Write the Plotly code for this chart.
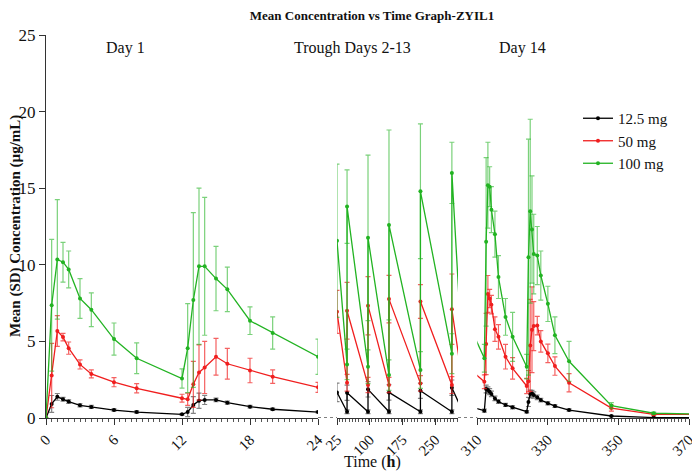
import plotly.graph_objects as go

# ---------------- data ----------------
# Day 1 (h)
t_day1 = [0, 0.5, 1, 1.5, 2, 3, 4, 6, 8, 12, 12.5, 13, 13.5, 14, 15, 16, 18, 20, 24]
d1_125 = [0, 0.92, 1.38, 1.22, 1.07, 0.83, 0.72, 0.52, 0.39, 0.24, 0.39, 0.85, 1.13, 1.18, 1.18, 1.0, 0.74, 0.57, 0.39]
sd1_125 = [0, 0.55, 0.22, 0.12, 0.12, 0.1, 0.1, 0.08, 0.07, 0.05, 0.3, 0.55, 0.5, 0.3, 0.12, 0.1, 0.08, 0.07, 0.06]
d1_50 = [0, 2.77, 5.68, 5.28, 4.56, 3.5, 2.88, 2.34, 1.94, 1.29, 1.22, 2.2, 2.97, 3.3, 4.0, 3.54, 3.1, 2.7, 2.0]
sd1_50 = [0, 2.1, 1.0, 0.25, 0.4, 0.3, 0.26, 0.3, 0.3, 0.26, 0.4, 1.5, 1.8, 1.7, 1.2, 1.0, 0.8, 0.44, 0.33]
d1_100 = [0, 7.36, 10.35, 10.17, 9.7, 7.8, 7.07, 5.15, 3.9, 2.58, 4.56, 7.7, 9.9, 9.9, 9.1, 8.4, 6.35, 5.55, 4.0]
sd1_100 = [0, 4.3, 3.9, 1.3, 1.2, 1.3, 1.1, 1.05, 1.0, 0.63, 2.9, 5.7, 5.1, 4.5, 2.1, 1.45, 0.9, 1.05, 1.15]

# Trough days 2-13 (h)
t_trough = [25, 48, 48, 96, 96, 144, 144, 216, 216, 288, 288]
tr_125 = [1.67, 0.41, 1.65, 0.41, 1.87, 0.41, 1.67, 0.41, 1.78, 0.41, 1.98]
sdtr_125 = [0.6, 0.12, 0.5, 0.12, 0.5, 0.12, 0.5, 0.12, 0.5, 0.12, 0.5]
tr_50 = [6.93, 2.3, 7.0, 2.15, 7.33, 2.15, 7.76, 2.26, 7.6, 2.15, 7.1]
sdtr_50 = [1.4, 0.55, 1.85, 0.5, 1.9, 0.5, 1.55, 0.5, 1.1, 0.55, 2.3]
tr_100 = [11.57, 3.5, 13.8, 3.35, 11.76, 2.8, 12.6, 3.13, 14.8, 4.2, 16.0]
sdtr_100 = [5.0, 1.0, 2.4, 1.1, 5.4, 1.0, 6.2, 1.2, 4.4, 1.3, 2.0]

# Day 14 (h)
t_day14 = [312, 312.5, 313, 313.5, 314, 315, 316, 318, 320, 324, 324.5, 325, 325.5, 326, 327, 328, 330, 332, 336, 348, 360, 372]
d14_125 = [0.48, 1.89, 1.83, 1.72, 1.57, 1.28, 1.07, 0.85, 0.70, 0.41, 1.05, 1.57, 1.6, 1.5, 1.35, 1.17, 0.96, 0.78, 0.52, 0.13, 0.03, 0.02]
sd14_125 = [0.1, 0.25, 0.2, 0.2, 0.18, 0.15, 0.12, 0.1, 0.1, 0.08, 0.3, 0.25, 0.2, 0.2, 0.15, 0.12, 0.1, 0.08, 0.07, 0.04, 0.02, 0.01]
d14_50 = [2.37, 4.83, 8.1, 7.8, 7.4, 5.8, 5.3, 4.0, 3.24, 2.09, 2.4, 4.74, 5.76, 6.0, 6.03, 5.0, 4.22, 3.39, 2.3, 0.65, 0.24, 0.24]
sd14_50 = [0.45, 2.0, 1.2, 0.6, 0.6, 0.8, 0.8, 0.8, 0.7, 0.5, 0.7, 3.0, 2.8, 1.6, 0.6, 0.7, 0.6, 0.6, 0.6, 0.2, 0.08, 0.05]
d14_100 = [3.9, 11.5, 15.2, 15.1, 13.6, 12.0, 9.2, 6.6, 5.3, 3.35, 10.5, 13.5, 12.3, 10.7, 10.6, 9.3, 7.45, 5.4, 3.7, 0.81, 0.31, 0.26]
sd14_100 = [0.9, 5.5, 2.8, 1.3, 1.5, 1.5, 1.4, 1.2, 1.6, 0.8, 7.7, 6.0, 3.5, 2.6, 1.9, 1.6, 1.15, 1.2, 1.3, 0.2, 0.08, 0.05]

doses = ["12.5 mg", "50 mg", "100 mg"]
line_colors = ["#000000", "#F01E1E", "#22B322"]
err_colors = ["rgba(90,90,90,0.75)", "rgba(240,30,30,0.7)", "rgba(34,179,34,0.6)"]

day1_vals = [d1_125, d1_50, d1_100]
day1_sds = [sd1_125, sd1_50, sd1_100]
later_vals = [tr_125 + d14_125, tr_50 + d14_50, tr_100 + d14_100]
later_sds = [sdtr_125 + sd14_125, sdtr_50 + sd14_50, sdtr_100 + sd14_100]
t_later = t_trough + t_day14

seg_ticks = [[0, 6, 12, 18, 24], [25, 100, 175, 250], [310, 330, 350, 370]]

FONT = "Liberation Serif"

fig = go.Figure()

for i, name in enumerate(doses):
    common = dict(
        mode="lines+markers",
        line=dict(color=line_colors[i], width=1.3),
        marker=dict(color=line_colors[i], size=4, symbol="circle"),
        legendgroup=name,
        name=name,
    )
    fig.add_trace(go.Scatter(
        x=t_day1, y=day1_vals[i],
        error_y=dict(type="data", array=day1_sds[i], color=err_colors[i], thickness=1.2, width=2.5),
        xaxis="x", yaxis="y", showlegend=True, **common))
    for ax in ["x2", "x3"]:
        fig.add_trace(go.Scatter(
            x=t_later, y=later_vals[i],
            error_y=dict(type="data", array=later_sds[i], color=err_colors[i], thickness=1.2, width=2.5),
            xaxis=ax, yaxis="y", showlegend=False, **common))

# page offset of the plot div inside the browser (body margin)
OFF = 8
W, H = 700 - OFF, 474 - OFF
# target plot area in screen px: x 46..689, y 35..418
X0, X1, Y0, Y1 = 46, 689, 35, 418
L, R, T, B = X0 - OFF, (700 - X1), Y0 - OFF, (474 - Y1)
pw = X1 - X0
ph = Y1 - Y0


def px2paper(px):
    return (px - X0) / pw


def py2paper(py):
    return (Y1 - py) / ph


dom1 = [0, px2paper(318)]
dom2 = [px2paper(337), px2paper(458)]
dom3 = [px2paper(477.3), 1]

axis_common = dict(
    showline=True, linecolor="#333", linewidth=1.2,
    ticks="outside", ticklen=6, tickwidth=1.2, tickcolor="#333",
    tickangle=-45, showgrid=False, zeroline=False,
    tickfont=dict(family=FONT, size=15, color="#111"),
    anchor="y", automargin=False,
)

fig.update_layout(
    width=W, height=H,
    margin=dict(l=L, r=R, t=T, b=B, autoexpand=False),
    plot_bgcolor="white", paper_bgcolor="white",
    font=dict(family=FONT, color="#111"),
    title=dict(text="<b>Mean Concentration vs Time Graph-ZYIL1</b>",
               x=(372 - OFF) / W, xanchor="center", y=1 - (15 - OFF) / H, yanchor="middle",
               font=dict(family=FONT, size=13, color="#111")),
    xaxis=dict(domain=dom1, range=[0, 24], tickvals=seg_ticks[0],
               minor=dict(dtick=0.5, ticks="outside", ticklen=3, tickcolor="#555"),
               **axis_common),
    xaxis2=dict(domain=dom2, range=[25, 302], tickvals=seg_ticks[1],
                minor=dict(dtick=7.5, ticks="outside", ticklen=3, tickcolor="#555"),
                **axis_common),
    xaxis3=dict(domain=dom3, range=[310, 370], tickvals=seg_ticks[2],
                minor=dict(dtick=1, ticks="outside", ticklen=3, tickcolor="#555"),
                **axis_common),
    yaxis=dict(range=[0, 25], dtick=5, showline=True, linecolor="#333", linewidth=1.2,
               ticks="outside", ticklen=6, tickwidth=1.2, tickcolor="#333",
               showgrid=False, zeroline=False, automargin=False,
               tickfont=dict(family=FONT, size=17, color="#111")),
    legend=dict(x=px2paper(578), y=py2paper(102), xanchor="left", yanchor="top",
                font=dict(family=FONT, size=15, color="#111"), bgcolor="rgba(0,0,0,0)",
                itemwidth=30, tracegroupgap=0),
    showlegend=True,
)

# dotted axis breaks
for a, b in [(318, 337), (458, 477.3)]:
    fig.add_shape(type="line", xref="paper", yref="y", x0=px2paper(a), x1=px2paper(b), y0=0, y1=0,
                  line=dict(color="#555", width=1.5, dash="dot"))

ann_font = dict(family=FONT, size=16, color="#111")
for txt, px in [("Day 1", 125), ("Trough Days 2-13", 352), ("Day 14", 522)]:
    fig.add_annotation(text=txt, x=px2paper(px), y=py2paper(48), xref="paper", yref="paper",
                       showarrow=False, font=ann_font, xanchor="center", yanchor="middle")

fig.add_annotation(text="Time (<b>h</b>)", x=px2paper(372), y=py2paper(462),
                   xref="paper", yref="paper", showarrow=False, font=dict(family=FONT, size=16, color="#111"),
                   xanchor="center", yanchor="middle")
fig.add_annotation(text="<b>Mean (SD) Concentration (µg/mL)</b>", x=px2paper(15), y=py2paper(226),
                   xref="paper", yref="paper", showarrow=False, textangle=-90,
                   font=dict(family=FONT, size=15, color="#111"), xanchor="center", yanchor="middle")

fig.write_html("out.html")
